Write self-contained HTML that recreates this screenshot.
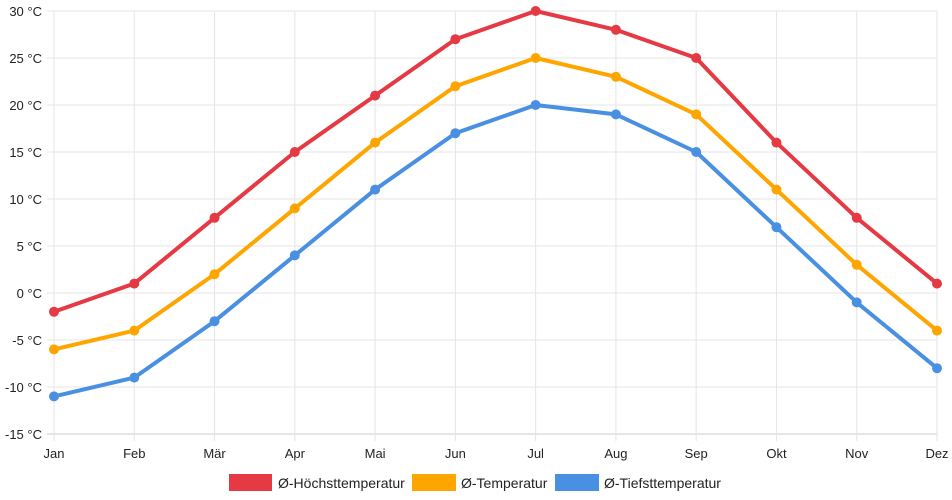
<!DOCTYPE html>
<html><head><meta charset="utf-8"><style>
body{margin:0;background:#fff;font-family:"Liberation Sans",sans-serif}
svg{display:block}
</style></head><body>
<svg id="chart" width="952" height="500" xmlns="http://www.w3.org/2000/svg" font-family="Liberation Sans, sans-serif" font-size="13" fill="#222">
<g id="grid"></g>
<g id="series"></g>
<g id="legend">
<g><rect x="229" y="474" width="43" height="17" fill="#e53944"/><text x="278" y="488" font-size="14">Ø-Höchsttemperatur</text></g>
<g><rect x="412" y="474" width="44" height="17" fill="#ffa500"/><text x="461" y="488" font-size="14">Ø-Temperatur</text></g>
<g><rect x="555" y="474" width="44" height="17" fill="#4a90e2"/><text x="604" y="488" font-size="14">Ø-Tiefsttemperatur</text></g>
</g>
</svg>
<script>
const months=["Jan","Feb","Mär","Apr","Mai","Jun","Jul","Aug","Sep","Okt","Nov","Dez"];
const maxTemps=[-2,1,8,15,21,27,30,28,25,16,8,1];
const avgTemps=[-6,-4,2,9,16,22,25,23,19,11,3,-4];
const minTemps=[-11,-9,-3,4,11,17,20,19,15,7,-1,-8];
const yTicks=[30,25,20,15,10,5,0,-5,-10,-15];
const NS="http://www.w3.org/2000/svg";
const x0=54,x1=937,yTop=11,yBot=434,yMax=30,yMin=-15;
const xs=i=>x0+i*(x1-x0)/(months.length-1);
const ys=v=>yTop+(yMax-v)*(yBot-yTop)/(yMax-yMin);
function mk(t,a,p){const e=document.createElementNS(NS,t);for(const k in a)e.setAttribute(k,a[k]);p.appendChild(e);return e;}
const g=document.getElementById('grid');
yTicks.forEach(v=>{
  const l=mk('line',{x1:47,x2:x1,y1:ys(v),y2:ys(v),stroke:v===yMin?'#ccc':'#e5e5e5','stroke-width':1},g);
  
  
  const t=mk('text',{x:42,y:ys(v)+5,'text-anchor':'end'},g);
  t.textContent=v+' °C';
  
  
});
months.forEach((m,i)=>{
  const l=mk('line',{x1:xs(i),x2:xs(i),y1:yTop,y2:441,stroke:'#e5e5e5','stroke-width':1},g);
  
  
  const t=mk('text',{x:xs(i),y:458,'text-anchor':'middle'},g);
  t.textContent=m;
  
  
});
const s=document.getElementById('series');
[[maxTemps,'#e53944','max'],[avgTemps,'#ffa500','avg'],[minTemps,'#4a90e2','min']].forEach(([d,c,n])=>{
  const p=mk('polyline',{points:d.map((v,i)=>xs(i)+','+ys(v)).join(' '),fill:'none',stroke:c,'stroke-width':4,'stroke-linejoin':'round'},s);
  
  
  d.forEach((v,i)=>{
    const q=mk('circle',{cx:xs(i),cy:ys(v),r:5,fill:c},s);
    
    
  });
});
</script>
</body></html>
